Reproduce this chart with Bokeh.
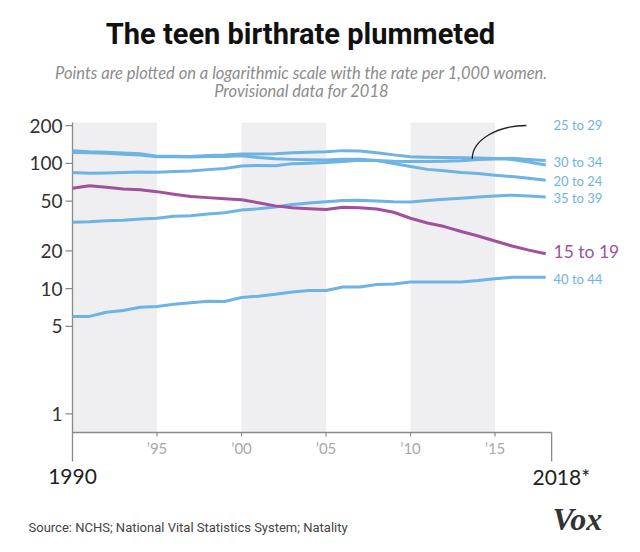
import math
from bokeh.plotting import figure
from bokeh.models import Range1d, LinearScale, ColumnDataSource
from bokeh.core.properties import value
from bokeh.embed import file_html
from bokeh.resources import INLINE

# ---------------- data ----------------
years = list(range(1990, 2019))

rate_15_19 = [63.4, 66.3, 64.5, 62.5, 61.7, 59.5, 56.8, 54.5, 53.3, 52.2,
              51.2, 48.5, 45.8, 44.3, 43.5, 42.8, 44.6, 44.3, 43.2, 40.7,
              36.5, 33.4, 31.3, 28.6, 26.3, 24.0, 21.9, 20.3, 19.0]
rate_20_24 = [122.0, 121.5, 120.3, 118.2, 116.6, 112.9, 113.2, 112.7, 113.6, 113.3,
              115.2, 111.5, 108.8, 107.7, 106.8, 106.5, 108.0, 108.0, 105.5, 100.0,
              94.5, 89.6, 87.3, 84.7, 83.0, 80.6, 78.5, 76.0, 73.3]
rate_25_29 = [126.0, 124.0, 123.0, 121.0, 119.5, 114.0, 114.0, 113.5, 115.5, 116.8,
              119.0, 119.0, 119.3, 121.4, 122.5, 124.0, 126.5, 125.5, 121.5, 117.0,
              113.0, 112.0, 111.5, 110.8, 110.5, 109.5, 107.5, 102.5, 97.0]
rate_30_34 = [84.6, 83.3, 84.0, 84.6, 85.3, 85.0, 86.0, 86.9, 89.2, 91.2,
              95.5, 96.2, 95.8, 99.6, 100.5, 101.5, 103.5, 106.0, 105.5, 104.0,
              103.5, 103.5, 104.0, 105.0, 107.5, 108.5, 110.0, 107.5, 105.5]
rate_35_39 = [33.9, 34.2, 34.8, 35.2, 36.0, 36.4, 37.8, 38.2, 39.5, 40.4,
              42.5, 43.4, 44.8, 46.9, 48.3, 49.5, 50.6, 50.8, 50.2, 49.3,
              49.1, 50.5, 51.7, 52.8, 54.0, 55.0, 55.8, 55.0, 54.0]
rate_40_44 = [6.0, 6.0, 6.48, 6.68, 7.1, 7.2, 7.5, 7.7, 7.93, 7.9,
              8.5, 8.7, 9.0, 9.4, 9.67, 9.67, 10.3, 10.3, 10.8, 10.9,
              11.3, 11.3, 11.3, 11.3, 11.6, 12.0, 12.3, 12.3, 12.3]

series_names = ["25 to 29", "30 to 34", "20 to 24", "35 to 39", "15 to 19", "40 to 44"]

y_ticks = [1, 5, 10, 20, 50, 100, 200]
y_tick_labels = ["1", "5", "10", "20", "50", "100", "200"]
x_tick_years = [1995, 2000, 2005, 2010, 2015]
x_tick_labels = ["\u201995", "\u201900", "\u201905", "\u201910", "\u201915"]
band_starts = [1990, 2000, 2010]
band_ends = [1995, 2005, 2015]

title_text = "The teen birthrate plummeted"
subtitle_1 = "Points are plotted on a logarithmic scale with the rate per 1,000 women."
subtitle_2 = "Provisional data for 2018"
source_text = "Source: NCHS; National Vital Statistics System; Natality"

# ---------------- layout / styling ----------------
BLUE = "#6db3e4"
PURPLE = "#a1509c"
AXIS = "#8a8a8a"
W, H = 632, 544
# plot area in canvas pixels
FL, FR, FT, FB = 72, 553, 122, 461
AX_Y = 432                      # horizontal axis line (canvas px)
X0, X1 = 1990, 2018.46          # years at FL and FR
X_END = 2018.35                 # "2018*" end tick
Y_TOP, Y_BOT = 212.2, 0.416     # values at FT and FB

ppy = (FR - FL) / (X1 - X0)
ppd = (FB - FT) / (math.log10(Y_TOP) - math.log10(Y_BOT))
xr = Range1d(X0 - FL / ppy, X1 + (W - FR) / ppy)
yr = Range1d(10 ** (math.log10(Y_BOT) - (H - FB) / ppd), 10 ** (math.log10(Y_TOP) + FT / ppd))

p = figure(width=W, height=H, x_range=xr, y_range=yr, y_axis_type="log",
           x_axis_location=None, y_axis_location=None,
           output_backend="svg", toolbar_location=None,
           min_border=0, min_border_left=0, min_border_right=0,
           min_border_top=0, min_border_bottom=0)
p.outline_line_color = None
p.grid.visible = False
p.background_fill_color = "white"
p.border_fill_color = "white"
p.extra_x_ranges = {"px": Range1d(0, W)}
p.extra_y_ranges = {"px": Range1d(H, 0)}
p.extra_x_scales = {"px": LinearScale()}
p.extra_y_scales = {"px": LinearScale()}

def txt(x, y, text, size, color, font="Lato", style="normal", align="left",
        xs="default", ys="px", baseline="middle"):
    src = ColumnDataSource(dict(x=list(x), y=list(y), t=list(text)))
    p.text(x="x", y="y", text="t", source=src, x_range_name=xs, y_range_name=ys,
           text_font=value(font), text_font_size=value(size), text_color=color,
           text_font_style=value(style), text_align=value(align),
           text_baseline=value(baseline))

# shaded bands (x in years, y in canvas px)
p.quad(left=band_starts, right=band_ends, bottom=AX_Y, top=FT, y_range_name="px",
       fill_color="#efeff1", line_color=None)

# y axis: line, ticks, labels
p.segment(x0=[FL], y0=[FT], x1=[FL], y1=[FB], x_range_name="px", y_range_name="px",
          line_color=AXIS, line_width=1.3)
p.segment(x0=FL - 7, y0=y_ticks, x1=FL, y1=y_ticks, x_range_name="px",
          line_color=AXIS, line_width=1.2)
txt([FL - 10] * len(y_ticks), y_ticks, y_tick_labels, "19px", "#333333",
    align="right", xs="px", ys="default")

# x axis: line, short ticks, end tick, labels
p.segment(x0=[X0], y0=[AX_Y], x1=[X_END], y1=[AX_Y], y_range_name="px",
          line_color=AXIS, line_width=1.3)
p.segment(x0=x_tick_years, y0=AX_Y, x1=x_tick_years, y1=AX_Y + 4, y_range_name="px",
          line_color=AXIS, line_width=1.2)
p.segment(x0=[X_END], y0=[AX_Y], x1=[X_END], y1=[FB], y_range_name="px",
          line_color=AXIS, line_width=1.3)
txt(x_tick_years, [447] * len(x_tick_years), x_tick_labels, "15px", "#a8a8a8", align="center")

# lines
for vals in [rate_20_24, rate_25_29, rate_30_34, rate_35_39, rate_40_44]:
    p.line(years, vals, line_color=BLUE, line_width=3, line_join="round")
p.line(years, rate_15_19, line_color=PURPLE, line_width=3, line_join="round")

# leader curve for "25 to 29"
p.bezier(x0=[2016.85], y0=[200.8], x1=[2013.65], y1=[108.8],
         cx0=[2015.09], cy0=[200.8], cx1=[2013.65], cy1=[152.3],
         line_color="#222222", line_width=1.3)

# series labels (canvas px)
label_y = [124.3, 161.7, 180.0, 197.7, 250.7, 278.3]
for name, ly in zip(series_names, label_y):
    if name == "15 to 19":
        txt([FR], [ly], [name], "17.5px", PURPLE, xs="px")
    else:
        txt([FR], [ly], [name], "13px", BLUE, xs="px")

# titles and footer (canvas px)
txt([300], [33], [title_text], "29px", "#111111", font="Roboto", style="bold", align="center", xs="px")
txt([301], [72], [subtitle_1], "16.5px", "#8c8c8c", style="italic", align="center", xs="px")
txt([301], [90], [subtitle_2], "16.5px", "#8c8c8c", style="italic", align="center", xs="px")
txt([FL], [476], ["1990"], "21px", "#222222", align="center", xs="px")
txt([532], [476], ["2018*"], "21px", "#222222", xs="px")
txt([28], [527], [source_text], "13px", "#444444", font="Roboto", xs="px")
txt([552], [518], ["Vox"], "32px", "#333333", font="Liberation Serif", style="bold italic", xs="px")

open("out.html", "w").write(file_html(p, INLINE))
